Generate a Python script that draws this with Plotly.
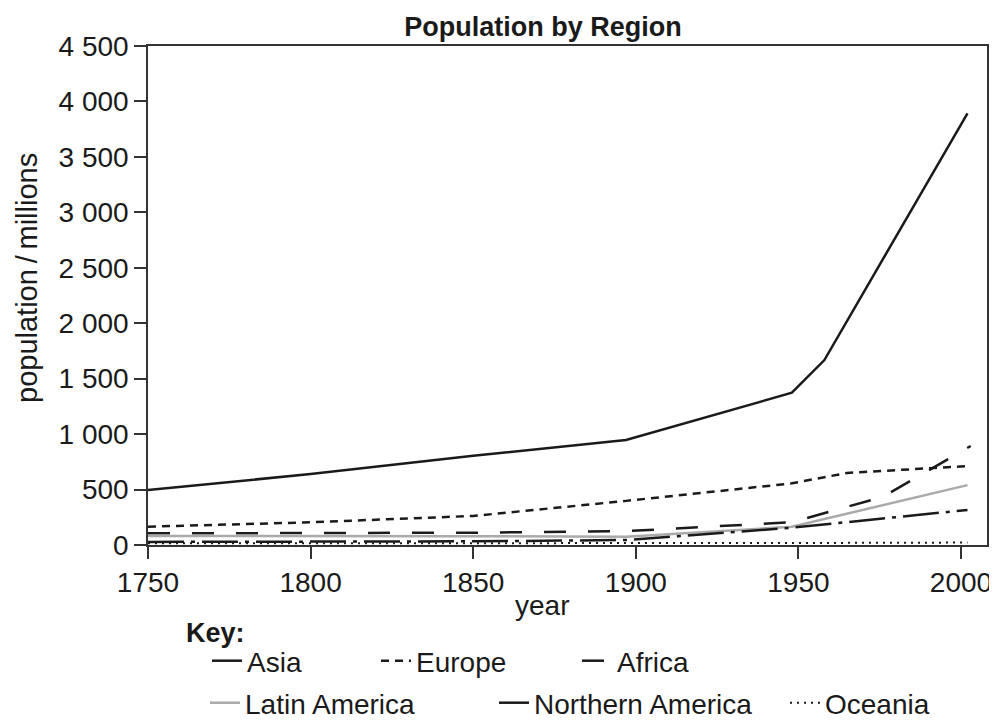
import plotly.graph_objects as go

# ---- data ----
asia_years = [1750, 1800, 1850, 1897, 1948, 1958, 2002]
asia = [495, 640, 805, 947, 1373, 1668, 3893]

europe_years = [1750, 1800, 1850, 1897, 1948, 1965, 2002]
europe = [165, 205, 262, 398, 556, 650, 712]

africa_years = [1750, 1800, 1850, 1897, 1948, 1976, 2003]
africa = [105, 108, 111, 125, 205, 435, 893]

latam_years = [1750, 1800, 1850, 1897, 1948, 2002]
latam = [82, 82, 80, 75, 165, 540]

namerica_years = [1750, 1800, 1850, 1897, 1948, 2002]
namerica = [28, 30, 33, 45, 156, 316]

oceania_years = [1750, 1850, 1900, 1950, 2002]
oceania = [15, 15, 15, 18, 22]

x_ticks = [1750, 1800, 1850, 1900, 1950, 2000]
x_ticktext = ["1750", "1800", "1850", "1900", "1950", "2000"]
y_ticks = [0, 500, 1000, 1500, 2000, 2500, 3000, 3500, 4000, 4500]
y_ticktext = ["0", "500", "1 000", "1 500", "2 000", "2 500", "3 000", "3 500", "4 000", "4 500"]

FONT = "Liberation Sans, Arial, sans-serif"
BLACK = "#1a1a1a"
OFF = 8                      # default page (body) margin of the html page
W, H = 997 - OFF, 720 - OFF

# plot area in page pixels
PL, PR, PT, PB = 148, 987, 46, 545


def fx(px):  # page x -> figure x
    return px - OFF


def fy(py):  # page y -> figure y
    return py - OFF


fig = go.Figure()

series = [
    ("Asia", asia_years, asia, dict(color=BLACK, width=2.5), "legend"),
    ("Europe", europe_years, europe, dict(color=BLACK, width=2.5, dash="8px,6px"), "legend2"),
    ("Africa", africa_years, africa, dict(color=BLACK, width=2.5, dash="22px,22px"), "legend3"),
    ("Latin America", latam_years, latam, dict(color="#aaaaaa", width=2.5), "legend4"),
    ("Northern America", namerica_years, namerica, dict(color=BLACK, width=2.5, dash="36px,7px,4px,7px"), "legend5"),
    ("Oceania", oceania_years, oceania, dict(color=BLACK, width=2, dash="2px,5px"), "legend6"),
]
for name, xs, ys, line, lg in series:
    fig.add_trace(go.Scatter(x=xs, y=ys, mode="lines", name=name, line=line, legend=lg))

axis_common = dict(
    showline=True, linecolor="#333333", linewidth=1.5, mirror=True,
    ticks="outside", ticklen=12, tickwidth=1.5, tickcolor="#333333",
    showgrid=False, zeroline=False, automargin=False, ticklabeloverflow="allow",
    tickfont=dict(family=FONT, size=28, color=BLACK),
)

# legend entries: (text start x, row centre y) in page pixels
legend_pos = {
    "legend": (247, 661), "legend2": (416, 661), "legend3": (617, 661),
    "legend4": (245, 703), "legend5": (534, 703), "legend6": (825, 703),
}
legends = {}
for key, (tx, cy) in legend_pos.items():
    legends[key] = dict(orientation="h", xref="container", yref="container",
                        x=(fx(tx) - 40) / W, y=1 - fy(cy) / H, xanchor="left", yanchor="middle",
                        font=dict(family=FONT, size=28, color=BLACK), bgcolor="rgba(0,0,0,0)",
                        itemwidth=30)

pw, ph = PR - PL, PB - PT

fig.update_layout(
    width=W, height=H,
    paper_bgcolor="white", plot_bgcolor="white",
    margin=dict(l=fx(PL), r=W - fx(PR), t=fy(PT), b=H - fy(PB), autoexpand=False),
    title=dict(text="<b>Population by Region</b>", x=fx(543) / W, xref="container", xanchor="center",
               y=1 - fy(27) / H, yref="container", yanchor="middle",
               font=dict(family=FONT, size=27, color=BLACK)),
    xaxis=dict(range=[1750, 2008], tickvals=x_ticks, ticktext=x_ticktext, **axis_common),
    yaxis=dict(range=[0, 4500], tickvals=y_ticks, ticktext=y_ticktext, **axis_common),
    showlegend=True,
    **legends,
    annotations=[
        dict(text="year", xref="paper", yref="paper", x=(542 - PL) / pw, y=-(605 - PB) / ph,
             xanchor="center", yanchor="middle", showarrow=False,
             font=dict(family=FONT, size=28, color=BLACK)),
        dict(text="population\u2009/\u2009millions", xref="paper", yref="paper",
             x=-(PL - 27) / pw, y=(PB - 278) / ph, textangle=-90,
             xanchor="center", yanchor="middle", showarrow=False,
             font=dict(family=FONT, size=29, color=BLACK)),
        dict(text="<b>Key:</b>", xref="paper", yref="paper", x=(184 - PL) / pw, y=-(633 - PB) / ph,
             xanchor="left", yanchor="middle", showarrow=False,
             font=dict(family=FONT, size=27, color=BLACK)),
    ],
)

fig.write_html("out.html")
